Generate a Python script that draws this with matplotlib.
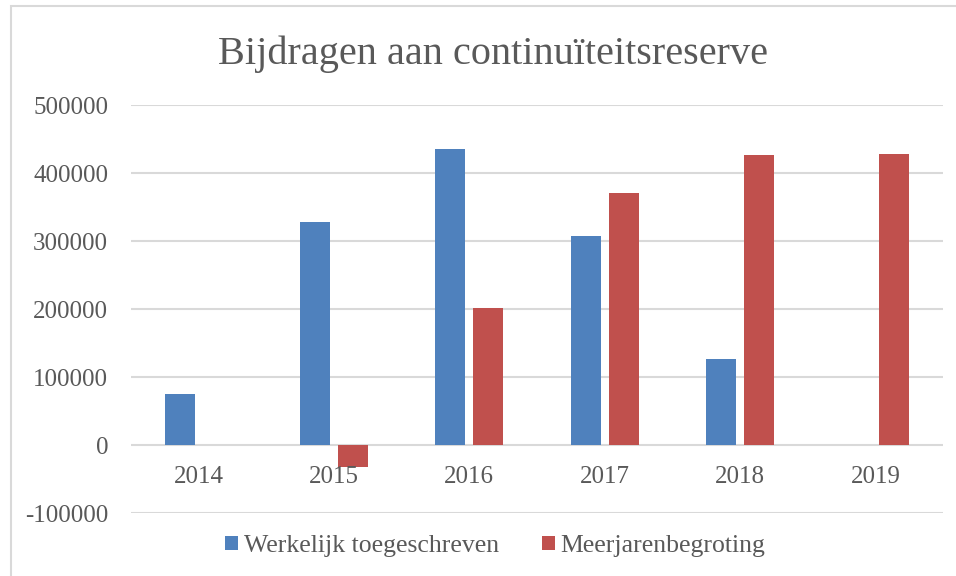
import matplotlib
matplotlib.use('Agg')
import matplotlib.pyplot as plt
import matplotlib.patches as mpatches
import numpy as np

# Chart data
years = ['2014', '2015', '2016', '2017', '2018', '2019']
werkelijk = [75000, 328000, 436000, 307000, 127000, 0]
meerjaren = [0, -32000, 202000, 370000, 426500, 427500]
yticks = [-100000, 0, 100000, 200000, 300000, 400000, 500000]

BLUE = '#4F81BD'
RED = '#C0504D'
TEXT = '#595959'
GRID = '#D9D9D9'

plt.rcParams['font.family'] = ['Liberation Serif', 'DejaVu Serif']

fig = plt.figure(figsize=(9.56, 5.76), dpi=100)
ax = fig.add_axes([131 / 956, 1 - 513 / 576, (943 - 131) / 956, (513 - 105) / 576])

x = np.arange(len(years))
width = 0.222
offset = 0.141
ax.bar(x - offset, werkelijk, width, color=BLUE, label='Werkelijk toegeschreven', zorder=3)
ax.bar(x + offset, meerjaren, width, color=RED, label='Meerjarenbegroting', zorder=3)

ax.set_xlim(-0.5, len(years) - 0.5)
ax.set_ylim(yticks[0], yticks[-1])
ax.set_yticks(yticks)
ax.set_yticklabels([str(v) for v in yticks], fontsize=18, color=TEXT)
ax.tick_params(axis='y', length=0, pad=16.5)
ax.set_xticks([])
ax.grid(axis='y', color=GRID, linewidth=1.5, zorder=0)
for s in ax.spines.values():
    s.set_visible(False)

# Category labels sit just under the zero line
for i, yr in enumerate(years):
    ax.annotate(yr, (i, 0), xytext=(0, -38), textcoords='offset pixels',
                ha='center', va='baseline', fontsize=18, color=TEXT)

fig.text(493 / 956, 1 - 64 / 576, 'Bijdragen aan continuïteitsreserve',
         ha='center', va='baseline', fontsize=29, color=TEXT)

leg = fig.legend(loc='center', bbox_to_anchor=(0.518, 1 - 546 / 576), ncol=2,
                 frameon=False, fontsize=18.5, handlelength=0.49, handleheight=0.49,
                 handletextpad=0.23, columnspacing=1.68)
for t in leg.get_texts():
    t.set_color(TEXT)

# Chart frame (cut off at the right and bottom)
fig.patches.append(mpatches.Rectangle((11 / 956, -0.1), 1.2, 1 - 6 / 576 + 0.1,
                                      transform=fig.transFigure, fill=False,
                                      edgecolor=GRID, linewidth=1.5))

fig.savefig('out.png', dpi=100)
